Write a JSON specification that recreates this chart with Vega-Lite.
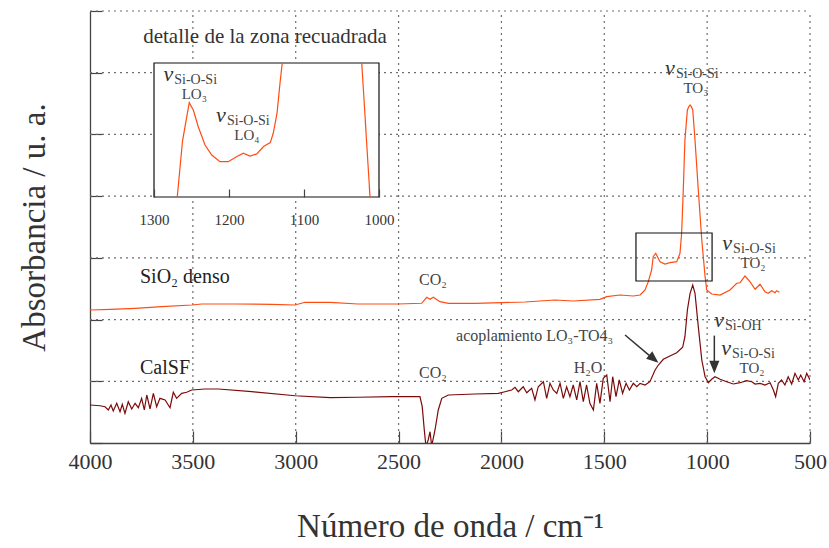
{
  "$schema": "https://vega.github.io/schema/vega-lite/v6.json",
  "width": 720,
  "height": 432,
  "autosize": {"type": "none"},
  "padding": {"left": 90, "top": 11, "right": 19, "bottom": 105},
  "background": "white",
  "config": {
    "font": "Liberation Serif",
    "view": {"stroke": null},
    "text": {"font": "Liberation Serif"},
    "axis": {
      "domainColor": "#444", "tickColor": "#444", "tickWidth": 1.2, "domainWidth": 1.3,
      "labelColor": "#333", "titleColor": "#333", "titleFontWeight": "normal",
      "labelFont": "Liberation Serif", "titleFont": "Liberation Serif", "grid": false
    }
  },
  "datasets": {
    "sio2": [
      {"wn": 4000, "a": 2.155}, {"wn": 3900, "a": 2.165}, {"wn": 3781, "a": 2.183}, {"wn": 3651, "a": 2.209},
      {"wn": 3505, "a": 2.236}, {"wn": 3457, "a": 2.252}, {"wn": 3295, "a": 2.252}, {"wn": 3117, "a": 2.247},
      {"wn": 3003, "a": 2.236}, {"wn": 2955, "a": 2.280}, {"wn": 2833, "a": 2.280}, {"wn": 2697, "a": 2.252},
      {"wn": 2503, "a": 2.252}, {"wn": 2388, "a": 2.264}, {"wn": 2363, "a": 2.361}, {"wn": 2347, "a": 2.328},
      {"wn": 2331, "a": 2.361}, {"wn": 2299, "a": 2.290}, {"wn": 2258, "a": 2.264}, {"wn": 2128, "a": 2.264},
      {"wn": 1999, "a": 2.273}, {"wn": 1885, "a": 2.285}, {"wn": 1740, "a": 2.317}, {"wn": 1651, "a": 2.301},
      {"wn": 1521, "a": 2.328}, {"wn": 1488, "a": 2.371}, {"wn": 1424, "a": 2.398}, {"wn": 1359, "a": 2.382},
      {"wn": 1326, "a": 2.398}, {"wn": 1302, "a": 2.479}, {"wn": 1286, "a": 2.614}, {"wn": 1270, "a": 2.803},
      {"wn": 1262, "a": 3.019}, {"wn": 1250, "a": 3.074}, {"wn": 1229, "a": 2.938}, {"wn": 1205, "a": 2.900},
      {"wn": 1181, "a": 2.922}, {"wn": 1148, "a": 2.938}, {"wn": 1132, "a": 3.074}, {"wn": 1124, "a": 3.398},
      {"wn": 1116, "a": 4.100}, {"wn": 1108, "a": 4.910}, {"wn": 1096, "a": 5.396}, {"wn": 1089, "a": 5.45},
      {"wn": 1083, "a": 5.477}, {"wn": 1077, "a": 5.45}, {"wn": 1070, "a": 5.396}, {"wn": 1059, "a": 4.910},
      {"wn": 1043, "a": 4.100}, {"wn": 1026, "a": 3.289}, {"wn": 1010, "a": 2.695}, {"wn": 1002, "a": 2.479},
      {"wn": 978, "a": 2.414}, {"wn": 937, "a": 2.398}, {"wn": 889, "a": 2.479}, {"wn": 856, "a": 2.588},
      {"wn": 840, "a": 2.597}, {"wn": 816, "a": 2.706}, {"wn": 792, "a": 2.614}, {"wn": 767, "a": 2.491},
      {"wn": 743, "a": 2.572}, {"wn": 719, "a": 2.452}, {"wn": 703, "a": 2.426}, {"wn": 686, "a": 2.468},
      {"wn": 670, "a": 2.435}, {"wn": 662, "a": 2.468}, {"wn": 649, "a": 2.442}
    ],
    "calsf": [
      {"wn": 4000, "a": 0.616}, {"wn": 3951, "a": 0.604}, {"wn": 3927, "a": 0.588}, {"wn": 3911, "a": 0.535},
      {"wn": 3898, "a": 0.616}, {"wn": 3887, "a": 0.519}, {"wn": 3870, "a": 0.643}, {"wn": 3854, "a": 0.507},
      {"wn": 3843, "a": 0.627}, {"wn": 3830, "a": 0.481}, {"wn": 3814, "a": 0.669}, {"wn": 3797, "a": 0.551},
      {"wn": 3781, "a": 0.643}, {"wn": 3765, "a": 0.572}, {"wn": 3749, "a": 0.724}, {"wn": 3736, "a": 0.535},
      {"wn": 3724, "a": 0.778}, {"wn": 3708, "a": 0.551}, {"wn": 3692, "a": 0.805}, {"wn": 3676, "a": 0.588},
      {"wn": 3660, "a": 0.724}, {"wn": 3635, "a": 0.697}, {"wn": 3611, "a": 0.572}, {"wn": 3595, "a": 0.822},
      {"wn": 3579, "a": 0.724}, {"wn": 3554, "a": 0.805}, {"wn": 3530, "a": 0.822}, {"wn": 3506, "a": 0.859},
      {"wn": 3441, "a": 0.875}, {"wn": 3376, "a": 0.875}, {"wn": 3214, "a": 0.831}, {"wn": 3003, "a": 0.766},
      {"wn": 2833, "a": 0.734}, {"wn": 2696, "a": 0.741}, {"wn": 2533, "a": 0.750}, {"wn": 2396, "a": 0.750},
      {"wn": 2385, "a": 0.588}, {"wn": 2375, "a": 0.211}, {"wn": 2367, "a": -0.05}, {"wn": 2356, "a": 0.049},
      {"wn": 2347, "a": 0.183}, {"wn": 2339, "a": -0.05}, {"wn": 2323, "a": 0.211}, {"wn": 2307, "a": 0.535},
      {"wn": 2290, "a": 0.724}, {"wn": 2258, "a": 0.778}, {"wn": 2128, "a": 0.794}, {"wn": 2015, "a": 0.805},
      {"wn": 1983, "a": 0.831}, {"wn": 1950, "a": 0.859}, {"wn": 1934, "a": 0.903}, {"wn": 1918, "a": 0.831},
      {"wn": 1894, "a": 0.912}, {"wn": 1877, "a": 0.815}, {"wn": 1853, "a": 0.886}, {"wn": 1837, "a": 0.697},
      {"wn": 1821, "a": 0.912}, {"wn": 1796, "a": 0.993}, {"wn": 1780, "a": 0.724}, {"wn": 1764, "a": 0.967},
      {"wn": 1748, "a": 0.859}, {"wn": 1731, "a": 0.805}, {"wn": 1715, "a": 0.967}, {"wn": 1699, "a": 0.724},
      {"wn": 1683, "a": 0.912}, {"wn": 1667, "a": 0.750}, {"wn": 1651, "a": 0.940}, {"wn": 1634, "a": 0.697},
      {"wn": 1618, "a": 0.993}, {"wn": 1602, "a": 0.669}, {"wn": 1586, "a": 0.940}, {"wn": 1570, "a": 0.643},
      {"wn": 1553, "a": 0.535}, {"wn": 1537, "a": 0.967}, {"wn": 1521, "a": 0.643}, {"wn": 1505, "a": 1.048},
      {"wn": 1488, "a": 1.102}, {"wn": 1472, "a": 0.669}, {"wn": 1459, "a": 1.074}, {"wn": 1443, "a": 0.750},
      {"wn": 1427, "a": 1.021}, {"wn": 1411, "a": 0.805}, {"wn": 1394, "a": 0.967}, {"wn": 1378, "a": 0.859},
      {"wn": 1359, "a": 0.967}, {"wn": 1342, "a": 0.912}, {"wn": 1326, "a": 0.967}, {"wn": 1302, "a": 0.940},
      {"wn": 1278, "a": 0.993}, {"wn": 1253, "a": 1.183}, {"wn": 1237, "a": 1.264}, {"wn": 1213, "a": 1.356},
      {"wn": 1181, "a": 1.410}, {"wn": 1148, "a": 1.463}, {"wn": 1119, "a": 1.551}, {"wn": 1108, "a": 1.722},
      {"wn": 1096, "a": 2.155}, {"wn": 1083, "a": 2.426}, {"wn": 1070, "a": 2.560}, {"wn": 1059, "a": 2.426},
      {"wn": 1043, "a": 1.885}, {"wn": 1026, "a": 1.345}, {"wn": 1010, "a": 1.074}, {"wn": 994, "a": 0.977},
      {"wn": 978, "a": 1.032}, {"wn": 962, "a": 1.074}, {"wn": 937, "a": 1.032}, {"wn": 905, "a": 0.993},
      {"wn": 873, "a": 0.956}, {"wn": 840, "a": 0.977}, {"wn": 808, "a": 1.010}, {"wn": 783, "a": 0.993},
      {"wn": 767, "a": 0.956}, {"wn": 743, "a": 0.967}, {"wn": 719, "a": 0.940}, {"wn": 694, "a": 0.977},
      {"wn": 678, "a": 0.859}, {"wn": 667, "a": 0.750}, {"wn": 654, "a": 0.967}, {"wn": 638, "a": 1.021},
      {"wn": 622, "a": 0.940}, {"wn": 606, "a": 1.074}, {"wn": 589, "a": 0.956}, {"wn": 573, "a": 1.130},
      {"wn": 557, "a": 1.021}, {"wn": 545, "a": 1.102}, {"wn": 529, "a": 0.993}, {"wn": 516, "a": 1.130},
      {"wn": 500, "a": 1.021}
    ],
    "inset": [
      {"wn": 1269, "a": 2.625, "seg": 1}, {"wn": 1262, "a": 2.95, "seg": 1}, {"wn": 1253, "a": 3.173, "seg": 1},
      {"wn": 1247.6, "a": 3.130, "seg": 1}, {"wn": 1241, "a": 3.033, "seg": 1}, {"wn": 1232, "a": 2.927, "seg": 1},
      {"wn": 1223, "a": 2.869, "seg": 1}, {"wn": 1212, "a": 2.830, "seg": 1}, {"wn": 1201, "a": 2.830, "seg": 1},
      {"wn": 1190, "a": 2.859, "seg": 1}, {"wn": 1181, "a": 2.879, "seg": 1}, {"wn": 1172, "a": 2.863, "seg": 1},
      {"wn": 1163, "a": 2.875, "seg": 1}, {"wn": 1154, "a": 2.918, "seg": 1}, {"wn": 1145, "a": 2.941, "seg": 1},
      {"wn": 1141, "a": 2.995, "seg": 1}, {"wn": 1136, "a": 3.110, "seg": 1}, {"wn": 1132, "a": 3.286, "seg": 1},
      {"wn": 1129, "a": 3.403, "seg": 1},
      {"wn": 1023, "a": 3.403, "seg": 2}, {"wn": 1012, "a": 2.625, "seg": 2}
    ],
    "nu": [
      {"wn": 1181, "a": 6.044, "sub": "Si-O-Si", "l2": "TO₃"},
      {"wn": 903, "a": 3.208, "sub": "Si-O-Si", "l2": "TO₂"},
      {"wn": 942, "a": 1.961, "sub": "Si-OH", "l2": ""},
      {"wn": 908, "a": 1.507, "sub": "Si-O-Si", "l2": "TO₂"}
    ],
    "nuInset": [
      {"wn": 1281, "a": 3.328, "sub": "Si-O-Si", "l2": "LO₃"},
      {"wn": 1210.7, "a": 3.089, "sub": "Si-O-Si", "l2": "LO₄"}
    ],
    "one": [{}]
  },
  "layer": [
    {
      "layer": [
        {
          "data": {"values": [{"g": 500}, {"g": 1000}, {"g": 1500}, {"g": 2000}, {"g": 2500}, {"g": 3000}, {"g": 3500}]},
          "mark": {"type": "rule", "color": "#6e6e6e", "strokeWidth": 1.2, "strokeDash": [2, 4]},
          "encoding": {
            "x": {"field": "g", "type": "quantitative"},
            "y": {"datum": 0, "type": "quantitative"},
            "y2": {"datum": 7}
          }
        },
        {
          "data": {"values": [{"g": 1}, {"g": 2}, {"g": 3}, {"g": 4}, {"g": 5}, {"g": 6}, {"g": 7}]},
          "mark": {"type": "rule", "color": "#6e6e6e", "strokeWidth": 1.2, "strokeDash": [2, 4]},
          "encoding": {
            "y": {"field": "g", "type": "quantitative"},
            "x": {"datum": 4000, "type": "quantitative"},
            "x2": {"datum": 500}
          }
        },
        {
          "data": {"name": "sio2"},
          "mark": {"type": "line", "color": "#ff4d12", "strokeWidth": 1.2, "clip": true},
          "encoding": {
            "x": {
              "field": "wn", "type": "quantitative",
              "scale": {"domain": [500, 4000], "reverse": true, "nice": false, "zero": false},
              "axis": {
                "title": "Número de onda / cm⁻¹", "values": [500, 1000, 1500, 2000, 2500, 3000, 3500, 4000],
                "format": "d", "tickSize": -12, "labelPadding": 20, "labelFontSize": 22, "labelFlush": false,
                "labelFont": "Liberation Serif", "labelOverlap": false, "titleFontSize": 33, "titlePadding": 38
              }
            },
            "y": {
              "field": "a", "type": "quantitative",
              "scale": {"domain": [0, 7], "nice": false, "zero": false},
              "axis": {
                "title": "Absorbancia / u. a.", "values": [0, 1, 2, 3, 4, 5, 6, 7], "labels": false,
                "tickSize": -12, "titleFontSize": 33, "titlePadding": 38
              }
            }
          }
        },
        {
          "data": {"name": "calsf"},
          "mark": {"type": "line", "color": "#7c0a0a", "strokeWidth": 1.2, "clip": true},
          "encoding": {
            "x": {"field": "wn", "type": "quantitative"},
            "y": {"field": "a", "type": "quantitative"}
          }
        },
        {
          "data": {"name": "one"},
          "mark": {"type": "rect", "filled": false, "stroke": "#111", "strokeWidth": 1.2},
          "encoding": {
            "x": {"datum": 1346, "type": "quantitative"},
            "x2": {"datum": 976},
            "y": {"datum": 2.625, "type": "quantitative"},
            "y2": {"datum": 3.403}
          }
        },
        {
          "data": {"name": "one"},
          "mark": {"type": "rule", "stroke": "#333", "strokeWidth": 1.5},
          "encoding": {
            "x": {"datum": 1399, "type": "quantitative"},
            "x2": {"datum": 1250},
            "y": {"datum": 1.750, "type": "quantitative"},
            "y2": {"datum": 1.33}
          }
        },
        {
          "data": {"name": "one"},
          "mark": {"type": "point", "shape": "M0,0 L-0.4,1 L0.4,1 Z", "filled": true, "color": "#333", "opacity": 1, "size": 576, "angle": 130},
          "encoding": {
            "x": {"datum": 1237, "type": "quantitative"},
            "y": {"datum": 1.301, "type": "quantitative"}
          }
        },
        {
          "data": {"name": "one"},
          "mark": {"type": "rule", "stroke": "#333", "strokeWidth": 1.5},
          "encoding": {
            "x": {"datum": 965, "type": "quantitative"},
            "y": {"datum": 1.74, "type": "quantitative"},
            "y2": {"datum": 1.25}
          }
        },
        {
          "data": {"name": "one"},
          "mark": {"type": "point", "shape": "M0,0 L-0.4,1 L0.4,1 Z", "filled": true, "color": "#333", "opacity": 1, "size": 640, "angle": 180},
          "encoding": {
            "x": {"datum": 965, "type": "quantitative"},
            "y": {"datum": 1.129, "type": "quantitative"}
          }
        },
        {
          "data": {"values": [
            {"wn": 3757, "a": 2.690, "t": "SiO₂ denso"},
            {"wn": 3757, "a": 1.215, "t": "CalSF"}
          ]},
          "mark": {"type": "text", "align": "left", "baseline": "middle", "fontSize": 20, "color": "#222"},
          "encoding": {
            "x": {"field": "wn", "type": "quantitative"},
            "y": {"field": "a", "type": "quantitative"},
            "text": {"field": "t"}
          }
        },
        {
          "data": {"values": [{"wn": 3149, "a": 6.579, "t": "detalle de la zona recuadrada"}]},
          "mark": {"type": "text", "align": "center", "baseline": "middle", "fontSize": 21, "color": "#333"},
          "encoding": {
            "x": {"field": "wn", "type": "quantitative"},
            "y": {"field": "a", "type": "quantitative"},
            "text": {"field": "t"}
          }
        },
        {
          "data": {"values": [
            {"wn": 2333, "a": 2.641, "t": "CO₂"},
            {"wn": 2333, "a": 1.134, "t": "CO₂"},
            {"wn": 1579, "a": 1.215, "t": "H₂O"},
            {"wn": 1839, "a": 1.734, "t": "acoplamiento LO₃-TO4₃"}
          ]},
          "mark": {"type": "text", "align": "center", "baseline": "middle", "fontSize": 16, "color": "#444"},
          "encoding": {
            "x": {"field": "wn", "type": "quantitative"},
            "y": {"field": "a", "type": "quantitative"},
            "text": {"field": "t"}
          }
        },
        {
          "data": {"name": "nu"},
          "mark": {"type": "text", "align": "center", "baseline": "alphabetic", "dy": 5, "fontSize": 22, "fontStyle": "italic", "color": "#333"},
          "encoding": {
            "x": {"field": "wn", "type": "quantitative"},
            "y": {"field": "a", "type": "quantitative"},
            "text": {"value": "ν"}
          }
        },
        {
          "data": {"name": "nu"},
          "mark": {"type": "text", "align": "left", "baseline": "alphabetic", "dx": 6, "dy": 8, "fontSize": 14, "color": "#444"},
          "encoding": {
            "x": {"field": "wn", "type": "quantitative"},
            "y": {"field": "a", "type": "quantitative"},
            "text": {"field": "sub"}
          }
        },
        {
          "data": {"name": "nu"},
          "mark": {"type": "text", "align": "center", "baseline": "alphabetic", "dx": 26, "dy": 23, "fontSize": 15, "color": "#444"},
          "encoding": {
            "x": {"field": "wn", "type": "quantitative"},
            "y": {"field": "a", "type": "quantitative"},
            "text": {"field": "l2"}
          }
        }
      ]
    },
    {
      "layer": [
        {
          "data": {"name": "one"},
          "mark": {"type": "rect", "fill": "white", "stroke": "#111", "strokeWidth": 1.2},
          "encoding": {
            "x": {
              "datum": 1300, "type": "quantitative",
              "scale": {"domain": [1000, 1300], "reverse": true, "range": [64, 289], "nice": false, "zero": false},
              "axis": {
                "orient": "bottom", "offset": -246, "values": [1000, 1100, 1200, 1300], "format": "d",
                "tickSize": -8, "domain": false, "labelFontSize": 15, "labelPadding": 23,
                "labelFlush": false, "title": null, "zindex": 2
              }
            },
            "x2": {"datum": 1000},
            "y": {
              "datum": 2.625, "type": "quantitative",
              "scale": {"domain": [2.625, 3.403], "range": [186, 52], "nice": false, "zero": false},
              "axis": null
            },
            "y2": {"datum": 3.403}
          }
        },
        {
          "data": {"name": "inset"},
          "mark": {"type": "line", "color": "#ff4d12", "strokeWidth": 1.2},
          "encoding": {
            "x": {"field": "wn", "type": "quantitative"},
            "y": {"field": "a", "type": "quantitative"},
            "detail": {"field": "seg"}
          }
        },
        {
          "data": {"name": "nuInset"},
          "mark": {"type": "text", "align": "center", "baseline": "alphabetic", "dy": 5, "fontSize": 22, "fontStyle": "italic", "color": "#333"},
          "encoding": {
            "x": {"field": "wn", "type": "quantitative"},
            "y": {"field": "a", "type": "quantitative"},
            "text": {"value": "ν"}
          }
        },
        {
          "data": {"name": "nuInset"},
          "mark": {"type": "text", "align": "left", "baseline": "alphabetic", "dx": 6, "dy": 8, "fontSize": 14, "color": "#444"},
          "encoding": {
            "x": {"field": "wn", "type": "quantitative"},
            "y": {"field": "a", "type": "quantitative"},
            "text": {"field": "sub"}
          }
        },
        {
          "data": {"name": "nuInset"},
          "mark": {"type": "text", "align": "center", "baseline": "alphabetic", "dx": 26, "dy": 23, "fontSize": 15, "color": "#444"},
          "encoding": {
            "x": {"field": "wn", "type": "quantitative"},
            "y": {"field": "a", "type": "quantitative"},
            "text": {"field": "l2"}
          }
        }
      ]
    }
  ],
  "resolve": {"scale": {"x": "independent", "y": "independent"}, "axis": {"x": "independent", "y": "independent"}}
}
